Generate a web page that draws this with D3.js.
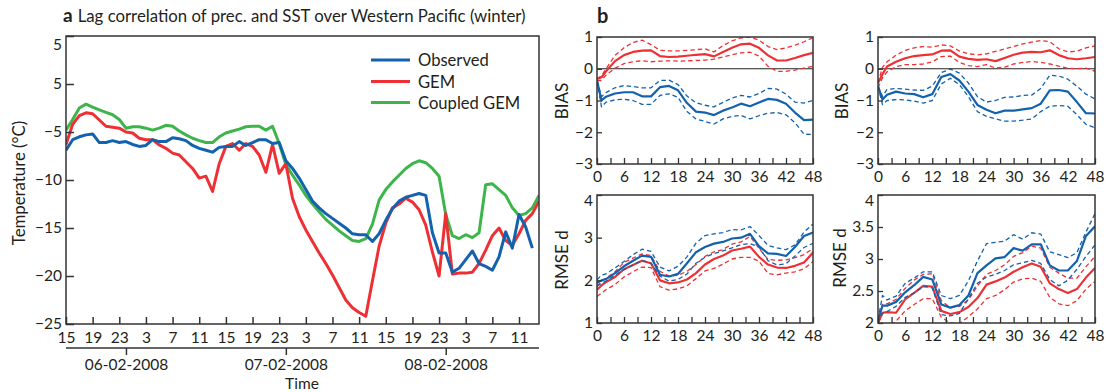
<!DOCTYPE html>
<html><head><meta charset="utf-8">
<script src="https://cdn.jsdelivr.net/npm/d3@7"></script>
<style>
body{margin:0;background:#fff}
svg{display:block}
text{font-family:Lato,"Open Sans",sans-serif;fill:#231f20}
</style>
</head><body>
<svg id="c" width="1106" height="392"></svg>
<script>
// ---------------- Panel a data (hourly, starting 15h on 05-02-2008) ----------------
const hourTickPos = [0,4,8,12,16,20,24,28,32,36,40,44,48,52,56,60,64,68];
const hourTickLabels = ["15","19","23","3","7","11","15","19","23","3","7","11","15","19","23","3","7","11"];
const datePos = [9,33,57];
const dateLabels = ["06-02-2008","07-02-2008","08-02-2008"];
const tempTickValues = [-25,-20,-15,-10,-5,0,5];
const tempTickLabels = ["\u221225","\u221220","\u221215","\u221210","\u22125","5","5"];
const seriesNames = ["Observed","GEM","Coupled GEM"];

const observed = [-6.9,-5.8,-5.5,-5.3,-5.2,-6.1,-6.1,-5.9,-6.1,-6.0,
 -6.3,-6.5,-6.4,-5.8,-6.0,-6.0,-5.6,-5.7,-5.9,-6.4,
 -6.7,-6.9,-7.1,-6.6,-6.5,-6.5,-6.0,-6.4,-6.1,-5.8,
 -5.8,-6.2,-6.1,-8.0,-8.8,-9.8,-11.0,-12.2,-12.9,-13.5,
 -14.0,-14.5,-15.0,-15.6,-15.7,-15.7,-16.4,-15.6,-14.2,-13.0,
 -12.2,-11.8,-11.6,-11.4,-11.6,-15.5,-17.6,-17.6,-19.6,-19.2,
 -18.3,-17.4,-18.7,-19.0,-19.4,-18.0,-15.4,-17.1,-13.6,-14.9,
 -17.1];
const gem = [-6.3,-4.2,-3.3,-3.0,-3.1,-3.75,-4.4,-4.5,-4.6,-5.0,
 -5.1,-5.65,-5.8,-5.8,-6.35,-6.7,-7.2,-7.4,-8.1,-8.8,
 -9.8,-9.6,-11.2,-8.3,-6.5,-6.2,-6.9,-6.2,-6.5,-7.4,
 -9.2,-6.3,-9.3,-8.3,-11.9,-13.8,-15.2,-16.4,-17.6,-18.7,
 -19.9,-21.2,-22.5,-23.3,-23.8,-24.2,-20.5,-16.9,-14.5,-12.9,
 -12.5,-11.9,-12.3,-13.1,-14.7,-17.5,-20.0,-13.5,-19.8,-19.7,
 -19.7,-19.6,-18.7,-17.3,-15.8,-15.0,-16.3,-16.8,-15.6,-14.2,
 -13.5,-12.2];
const coupledGem = [-4.8,-3.7,-2.5,-2.1,-2.4,-2.7,-2.95,-3.2,-3.7,-4.6,
 -4.45,-4.45,-4.6,-4.8,-4.6,-4.3,-4.4,-4.9,-5.3,-5.65,
 -5.9,-6.1,-6.1,-5.5,-5.1,-4.9,-4.7,-4.45,-4.4,-4.4,
 -4.8,-4.4,-6.2,-8.4,-9.5,-10.5,-11.6,-12.5,-13.3,-14.1,
 -14.7,-15.3,-15.8,-16.3,-16.4,-16.1,-14.6,-12.1,-11.0,-10.2,
 -9.5,-8.8,-8.3,-8.0,-8.2,-8.8,-9.6,-13.6,-15.8,-16.1,
 -15.7,-16.0,-15.5,-10.5,-10.4,-11.0,-11.6,-12.9,-13.7,-13.5,
 -12.9,-11.6];

// ---------------- Panel b data (lag hours) ----------------
const lags = [0,1,2,4,6,8,10,12,14,16,18,20,22,24,26,28,30,32,34,36,38,40,42,44,46,48];
const lagTickValues = [0,3,6,9,12,15,18,21,24,27,30,33,36,39,42,45,48];
const lagLabelValues = [0,6,12,18,24,30,36,42,48];
const biasTicks = [-3,-2,-1,0,1];
const rmseLeftTicks = [1,2,3,4];
const rmseRightTicks = [2,2.5,3,3.5,4];

const biasLeftRed   = [-0.32,-0.27,-0.08,0.24,0.43,0.53,0.57,0.58,0.40,0.37,0.38,0.41,0.44,0.46,0.39,0.53,0.66,0.77,0.79,0.66,0.42,0.26,0.26,0.34,0.43,0.50];
const biasLeftRedHi = [-0.32,-0.22,0.00,0.42,0.66,0.83,0.90,0.76,0.58,0.56,0.56,0.58,0.60,0.63,0.53,0.73,0.88,0.97,1.00,0.90,0.70,0.60,0.66,0.74,0.85,0.98];
const biasLeftRedLo = [-0.37,-0.37,-0.20,0.02,0.16,0.22,0.25,0.22,0.24,0.25,0.24,0.25,0.26,0.27,0.30,0.37,0.44,0.50,0.52,0.40,0.08,-0.08,-0.08,-0.04,0.02,0.08];
const biasLeftBlue   = [-0.37,-1.00,-0.88,-0.78,-0.74,-0.74,-0.87,-0.87,-0.58,-0.54,-0.68,-1.08,-1.35,-1.38,-1.46,-1.32,-1.22,-1.10,-1.18,-1.06,-0.95,-0.98,-1.10,-1.38,-1.62,-1.60];
const biasLeftBlueHi = [-0.37,-0.88,-0.75,-0.60,-0.53,-0.56,-0.60,-0.60,-0.37,-0.36,-0.50,-0.86,-1.07,-1.15,-1.20,-1.06,-0.92,-0.84,-0.89,-0.78,-0.62,-0.64,-0.80,-1.05,-1.08,-1.00];
const biasLeftBlueLo = [-0.37,-1.20,-1.05,-0.98,-0.96,-1.00,-1.12,-1.12,-0.84,-0.79,-0.90,-1.35,-1.58,-1.66,-1.74,-1.58,-1.50,-1.47,-1.58,-1.48,-1.40,-1.38,-1.45,-1.70,-2.06,-2.07];

const biasRightRed   = [-0.45,-0.17,0.07,0.22,0.33,0.40,0.43,0.45,0.57,0.58,0.38,0.31,0.28,0.30,0.24,0.34,0.44,0.51,0.53,0.52,0.58,0.43,0.33,0.30,0.33,0.37];
const biasRightRedHi = [-0.45,0.05,0.22,0.43,0.58,0.66,0.70,0.68,0.75,0.72,0.56,0.47,0.44,0.47,0.55,0.62,0.70,0.78,0.84,0.89,0.85,0.63,0.53,0.55,0.66,0.72];
const biasRightRedLo = [-0.60,-0.28,-0.10,0.07,0.13,0.13,0.15,0.22,0.38,0.40,0.20,0.10,0.07,0.13,0.02,0.05,0.15,0.20,0.23,0.20,0.15,0.08,0.02,0.00,0.02,-0.08];
const biasRightBlue   = [-0.55,-0.97,-0.82,-0.72,-0.78,-0.80,-0.90,-0.80,-0.26,-0.17,-0.37,-0.72,-1.14,-1.29,-1.40,-1.32,-1.32,-1.28,-1.24,-1.10,-0.68,-0.67,-0.72,-1.05,-1.40,-1.41];
const biasRightBlueHi = [-0.55,-0.87,-0.65,-0.62,-0.64,-0.67,-0.68,-0.55,-0.12,-0.01,-0.14,-0.45,-0.88,-1.05,-1.00,-0.90,-0.89,-0.84,-0.83,-0.62,-0.20,-0.23,-0.33,-0.55,-0.80,-0.95];
const biasRightBlueLo = [-0.55,-1.13,-1.00,-0.97,-0.98,-1.02,-1.08,-1.00,-0.48,-0.30,-0.50,-0.88,-1.35,-1.50,-1.58,-1.65,-1.65,-1.62,-1.58,-1.35,-1.18,-1.16,-1.18,-1.45,-1.75,-1.86];

const rmseLeftRed   = [1.78,1.88,1.96,2.08,2.26,2.36,2.46,2.40,2.00,1.93,1.95,2.02,2.17,2.37,2.50,2.58,2.70,2.74,2.79,2.55,2.37,2.30,2.29,2.34,2.42,2.65];
const rmseLeftRedHi = [1.86,1.97,2.05,2.20,2.42,2.52,2.62,2.58,2.21,2.10,2.12,2.21,2.37,2.56,2.67,2.72,2.85,2.90,3.03,2.75,2.49,2.47,2.48,2.53,2.60,2.75];
const rmseLeftRedLo = [1.62,1.70,1.78,1.90,2.08,2.20,2.31,2.30,1.85,1.77,1.80,1.87,2.04,2.22,2.28,2.38,2.50,2.54,2.54,2.45,2.16,2.13,2.17,2.20,2.27,2.44];
const rmseLeftBlue   = [1.94,2.00,2.03,2.17,2.33,2.46,2.58,2.55,2.13,2.09,2.15,2.40,2.66,2.78,2.86,2.90,2.98,3.00,3.09,2.80,2.63,2.62,2.57,2.78,3.04,3.12];
const rmseLeftBlueHi = [2.01,2.12,2.15,2.29,2.44,2.60,2.73,2.68,2.31,2.22,2.33,2.55,2.87,3.05,3.09,3.12,3.19,3.18,3.26,3.05,2.82,2.76,2.72,2.83,3.13,3.32];
const rmseLeftBlueLo = [1.86,1.93,1.98,2.12,2.25,2.36,2.47,2.40,2.10,1.98,2.02,2.15,2.40,2.54,2.63,2.69,2.76,2.84,2.86,2.78,2.46,2.36,2.39,2.57,2.77,2.87];

const rmseRightRed   = [2.00,2.16,2.17,2.16,2.37,2.47,2.58,2.57,2.19,2.14,2.17,2.25,2.39,2.60,2.65,2.71,2.80,2.87,2.93,2.88,2.62,2.53,2.47,2.53,2.71,2.86];
const rmseRightRedHi = [2.00,2.29,2.30,2.37,2.54,2.67,2.76,2.77,2.35,2.24,2.26,2.36,2.58,2.76,2.82,2.91,3.04,3.10,3.20,3.17,2.87,2.78,2.70,2.70,2.88,3.04];
const rmseRightRedLo = [1.85,1.88,1.93,2.03,2.19,2.29,2.38,2.38,2.09,2.00,1.99,2.10,2.22,2.38,2.43,2.52,2.64,2.69,2.70,2.65,2.40,2.30,2.27,2.35,2.53,2.65];
const rmseRightBlue   = [2.05,2.27,2.27,2.33,2.48,2.59,2.72,2.68,2.29,2.24,2.28,2.43,2.78,2.90,3.01,3.03,3.17,3.13,3.23,3.23,2.90,2.82,2.82,2.97,3.36,3.51];
const rmseRightBlueHi = [2.05,2.43,2.36,2.42,2.62,2.70,2.80,2.80,2.43,2.38,2.43,2.66,2.97,3.24,3.26,3.28,3.38,3.31,3.41,3.39,3.11,3.07,3.02,3.10,3.42,3.71];
const rmseRightBlueLo = [2.00,2.15,2.18,2.26,2.40,2.47,2.57,2.55,2.13,2.11,2.15,2.38,2.62,2.72,2.76,2.82,2.91,2.94,2.98,2.93,2.68,2.58,2.67,2.84,3.04,3.22];

// ---------------- Drawing ----------------
const BLUE = "#1262ad", RED = "#ee3035", GREEN = "#3db54a", AXIS = "#333";
const svg = d3.select("#c");
const defs = svg.append("defs");

// ---- Panel a ----
const A = {l:66, r:539, t:36, b:324};
const xa = d3.scaleLinear().domain([0,71]).range([A.l, A.r]);
const ya = d3.scaleLinear().domain([-25,5]).range([A.b, A.t]);
defs.append("clipPath").attr("id","clipA").append("rect")
  .attr("x",A.l).attr("y",A.t).attr("width",A.r-A.l).attr("height",A.b-A.t);

const ga = svg.append("g");
const lineA = d3.line().x((d,i)=>xa(i)).y(d=>ya(d));
const aSeries = [[observed,BLUE],[gem,RED],[coupledGem,GREEN]];
const gLines = ga.append("g").attr("clip-path","url(#clipA)");
[[coupledGem,GREEN],[gem,RED],[observed,BLUE]].forEach(([vals,col])=>{
  gLines.append("path").attr("d",lineA(vals)).attr("fill","none")
    .attr("stroke",col).attr("stroke-width",3).attr("stroke-linejoin","round");
});

const yAxA = ga.append("g").attr("transform",`translate(${A.l},0)`)
  .call(d3.axisLeft(ya).tickValues(tempTickValues).tickFormat((d,i)=>tempTickLabels[i]).tickSize(-8).tickPadding(4));
const xAxA = ga.append("g").attr("transform",`translate(0,${A.b})`)
  .call(d3.axisBottom(xa).tickValues(hourTickPos).tickFormat((d,i)=>hourTickLabels[i]).tickSize(-7).tickPadding(8));
[yAxA,xAxA].forEach(g=>{
  g.select(".domain").remove();
  g.selectAll(".tick line").attr("stroke",AXIS).attr("stroke-width",1.5);
  g.selectAll(".tick text").attr("font-size",15.5).attr("font-family","Lato,sans-serif").attr("fill","#231f20");
});
// top label sits slightly below the frame in the reference
yAxA.selectAll(".tick").filter(d=>d===5).select("text").attr("dy","0.85em");
ga.append("rect").attr("x",A.l).attr("y",A.t).attr("width",A.r-A.l).attr("height",A.b-A.t)
  .attr("fill","none").attr("stroke",AXIS).attr("stroke-width",1.5);

// date axis
const dateY = 348;
const dAx = ga.append("g").attr("transform",`translate(0,${dateY})`)
  .call(d3.axisBottom(xa).tickValues(datePos).tickFormat((d,i)=>dateLabels[i]).tickSize(7).tickPadding(4));
dAx.select(".domain").attr("d",`M${A.l},0H${A.r}`).attr("stroke",AXIS).attr("stroke-width",1.5);
dAx.selectAll(".tick line").attr("stroke",AXIS).attr("stroke-width",1.5);
dAx.selectAll(".tick text").attr("font-size",15.5).attr("font-family","Lato,sans-serif").attr("fill","#231f20");

ga.append("text").attr("x",302).attr("y",389).attr("text-anchor","middle").attr("font-size",15.5).text("Time");
ga.append("text").attr("transform","translate(25,183) rotate(-90)").attr("text-anchor","middle")
  .attr("font-size",16.8).text("Temperature (\u00B0C)");

const title = ga.append("text").attr("x",63).attr("y",22).attr("font-size",16.8);
title.append("tspan").attr("font-weight","bold").attr("font-size",19).text("a");
title.append("tspan").attr("dx",5).text("Lag correlation of prec. and SST over Western Pacific (winter)");

// legend
const legRows = [60,81.5,102.5];
aSeries.forEach(([vals,col],i)=>{
  ga.append("line").attr("x1",371).attr("x2",410).attr("y1",legRows[i]).attr("y2",legRows[i])
    .attr("stroke",col).attr("stroke-width",3);
  ga.append("text").attr("x",418).attr("y",legRows[i]+6).attr("font-size",16.6).text(seriesNames[i]);
});

// ---- Panel b ----
svg.append("text").attr("x",597).attr("y",23).attr("font-size",20).attr("font-weight","bold").text("b");

function drawB(cfg, id){
  const x = d3.scaleLinear().domain([0,48]).range([cfg.l, cfg.r]);
  const y = d3.scaleLinear().domain(cfg.dom).range([cfg.b, cfg.t]);
  const g = svg.append("g");
  defs.append("clipPath").attr("id",id).append("rect")
    .attr("x",cfg.l).attr("y",cfg.t).attr("width",cfg.r-cfg.l).attr("height",cfg.b-cfg.t);
  const gl = g.append("g").attr("clip-path",`url(#${id})`);
  if (cfg.zero) {
    gl.append("line").attr("x1",cfg.l).attr("x2",cfg.r).attr("y1",y(0)).attr("y2",y(0))
      .attr("stroke","#222").attr("stroke-width",1.2);
  }
  const line = d3.line().x((d,i)=>x(lags[i])).y(d=>y(d));
  cfg.series.forEach(s=>{
    gl.append("path").attr("d",line(s.vals)).attr("fill","none").attr("stroke",s.color)
      .attr("stroke-width",s.dash?1.3:2.2).attr("stroke-dasharray",s.dash?"4.5,3":null)
      .attr("stroke-linejoin","round");
  });
  const yAx = g.append("g").attr("transform",`translate(${cfg.l},0)`)
    .call(d3.axisLeft(y).tickValues(cfg.ticks).tickFormat(d=>d<0?"\u2212"+Math.abs(d):String(d)).tickSize(-5).tickPadding(4));
  const xAx = g.append("g").attr("transform",`translate(0,${cfg.b})`)
    .call(d3.axisBottom(x).tickValues(lagTickValues).tickFormat(d=>lagLabelValues.includes(d)?String(d):"").tickSize(-6).tickPadding(7));
  [yAx,xAx].forEach(a=>{
    a.select(".domain").remove();
    a.selectAll(".tick line").attr("stroke",AXIS).attr("stroke-width",1.3);
    a.selectAll(".tick text").attr("font-size",15.5).attr("font-family","Lato,sans-serif").attr("fill","#231f20");
  });
  if (cfg.topNudge) yAx.selectAll(".tick").filter(d=>d===cfg.dom[1]).select("text").attr("dy",cfg.topNudge);
  g.append("rect").attr("x",cfg.l).attr("y",cfg.t).attr("width",cfg.r-cfg.l).attr("height",cfg.b-cfg.t)
    .attr("fill","none").attr("stroke",AXIS).attr("stroke-width",1.5);
  g.append("text").attr("transform",`translate(${cfg.lx},${cfg.ly}) rotate(-90)`)
    .attr("text-anchor","middle").attr("font-size",17).text(cfg.label);
}

const mk = (m,hi,lo,col)=>[{vals:hi,color:col,dash:true},{vals:lo,color:col,dash:true},{vals:m,color:col,dash:false}];

drawB({l:597,r:813,t:37,b:164,dom:[-3,1],ticks:biasTicks,zero:true,label:"BIAS",lx:568,ly:101,
  series:[...mk(biasLeftRed,biasLeftRedHi,biasLeftRedLo,RED),...mk(biasLeftBlue,biasLeftBlueHi,biasLeftBlueLo,BLUE)]},"cb1");
drawB({l:878,r:1095,t:37,b:164,dom:[-3,1],ticks:biasTicks,zero:true,label:"BIAS",lx:848,ly:101,
  series:[...mk(biasRightRed,biasRightRedHi,biasRightRedLo,RED),...mk(biasRightBlue,biasRightBlueHi,biasRightBlueLo,BLUE)]},"cb2");
drawB({l:597,r:813,t:195,b:323,dom:[1,4],ticks:rmseLeftTicks,zero:false,label:"RMSE d",lx:568,ly:260,topNudge:"0.65em",
  series:[...mk(rmseLeftRed,rmseLeftRedHi,rmseLeftRedLo,RED),...mk(rmseLeftBlue,rmseLeftBlueHi,rmseLeftBlueLo,BLUE)]},"cb3");
drawB({l:878,r:1095,t:195,b:323,dom:[2,4],ticks:rmseRightTicks,zero:false,label:"RMSE d",lx:846,ly:258,topNudge:"0.65em",
  series:[...mk(rmseRightRed,rmseRightRedHi,rmseRightRedLo,RED),...mk(rmseRightBlue,rmseRightBlueHi,rmseRightBlueLo,BLUE)]},"cb4");
</script>
</body></html>
